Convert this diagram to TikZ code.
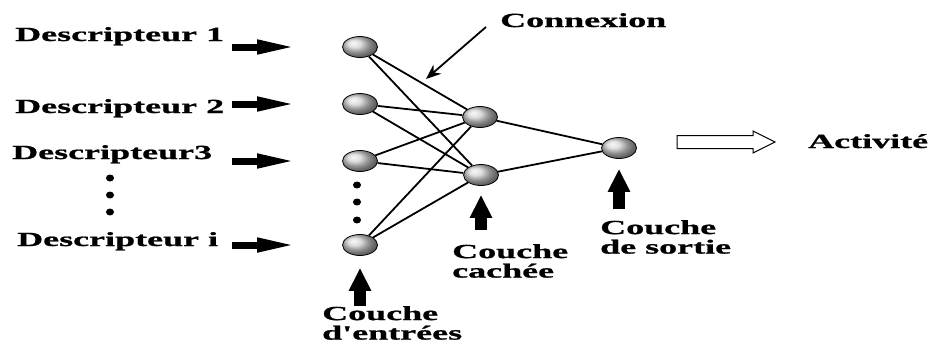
\documentclass[tikz,border=0pt]{standalone}
\usepackage{fontspec}
\setmainfont{Liberation Serif}[FakeStretch=1.8,Ligatures=TeXOff,BoldFeatures={FakeBold=1}]
\usetikzlibrary{shapes.geometric,arrows.meta}
\tikzset{
  neuron/.style={ellipse, draw=black, line width=0.8pt, shade, ball color=gray!35,
    minimum width=35pt, minimum height=21pt, inner sep=0pt},
  dotn/.style={ellipse, fill=black, minimum width=8pt, minimum height=7pt, inner sep=0pt},
  lbl/.style={font=\fontsize{20}{19.5}\selectfont\bfseries, inner sep=0pt, align=left},
  link/.style={line width=1.8pt},
  inarrow/.style={line width=7pt, -{Triangle[length=40pt,width=13pt]}},
  uparrow/.style={line width=12pt, -{Triangle[length=23pt,width=21pt]}}
}
\begin{document}
\begin{tikzpicture}[x=1pt,y=-1pt]
\useasboundingbox (0,0) rectangle (928,343);
\node[neuron] (in1) at (360,47) {}; \node[neuron] (in2) at (360,104) {};
\node[neuron] (in3) at (360,161) {}; \node[neuron] (ini) at (360,245) {};
\node[neuron] (h1) at (480,117) {}; \node[neuron] (h2) at (481,175) {};
\node[neuron] (out) at (619,148) {};
\foreach \y [count=\k] in {185,202,220} \node[dotn] (md\k) at (357,\y) {};
\foreach \y [count=\k] in {178,195,212} \node[dotn] (ld\k) at (110,\y) {};
\foreach \a in {in1,in2,in3,ini} \foreach \b in {h1,h2} \draw[link] (\a) -- (\b);
\draw[link] (h1) -- (out); \draw[link] (h2) -- (out);
\node[lbl,anchor=base west] (d1) at (15,41) {Descripteur 1};
\node[lbl,anchor=base west] (d2) at (15,113) {Descripteur 2};
\node[lbl,anchor=base west] (d3) at (12,159) {Descripteur3};
\node[lbl,anchor=base west] (di) at (17,246) {Descripteur i};
\foreach \n in {in1,in2,in3,ini}
  \draw[inarrow] ([xshift=-110pt]\n.west) -- ([xshift=-45pt]\n.west);
\node[lbl,anchor=base west] (cx) at (500,27) {Connexion};
\coordinate (cxtip) at (426,79);
\draw[line width=1.8pt,-{Stealth[length=15pt,width=12pt]}] ([xshift=-14pt]cx.base west) -- (cxtip);
\draw[uparrow] ([yshift=-50pt]ini.south) -- ([yshift=-12pt]ini.south);
\draw[uparrow] ([yshift=-44pt]h2.south) -- ([yshift=-9pt]h2.south);
\draw[uparrow] ([yshift=-50pt]out.south) -- ([yshift=-10pt]out.south);
\node[lbl,anchor=north west] (ce) at (322,306) {Couche\\d'entrées};
\node[lbl,anchor=north west] (cc) at (452,244) {Couche\\cachée};
\node[lbl,anchor=north west] (cs) at (600,220) {Couche\\de sortie};
\draw[line width=1pt] (677,135.5) -- (753,135.5) -- (753,131) -- (775,142)
  -- (753,153) -- (753,148.5) -- (677,148.5) -- cycle;
\node[lbl,anchor=base west] (act) at (808,148) {Activité};
\end{tikzpicture}
\end{document}
